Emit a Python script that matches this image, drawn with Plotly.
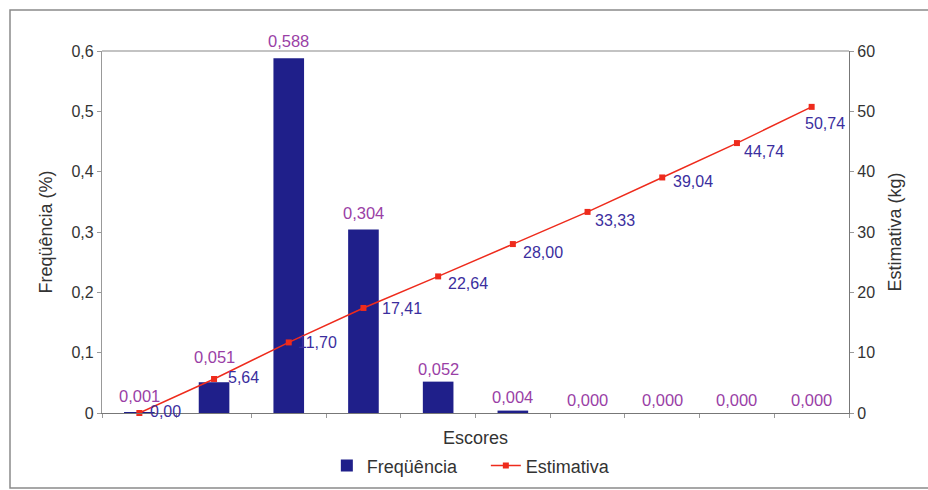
import plotly.graph_objects as go

# Score classes (no tick labels shown on the category axis)
escores = [1, 2, 3, 4, 5, 6, 7, 8, 9, 10]
frequencia = [0.001, 0.051, 0.588, 0.304, 0.052, 0.004, 0.000, 0.000, 0.000, 0.000]
estimativa = [0.00, 5.64, 11.70, 17.41, 22.64, 28.00, 33.33, 39.04, 44.74, 50.74]

freq_ticks = [0, 0.1, 0.2, 0.3, 0.4, 0.5, 0.6]
freq_ticktext = ["0", "0,1", "0,2", "0,3", "0,4", "0,5", "0,6"]
est_ticks = [0, 10, 20, 30, 40, 50, 60]

# Label placement offsets in pixels (styling only)
bar_label_dy = [16, 25, 17, 17, 13, 14, 13, 13, 13, 13]
line_label_dx = [9, 12, 7, 17, 8, 8, 5, 9, 5, -9]
line_label_dy = [2, 1, 0, -1, -7, -8, -9, -4, -8, -17]


def br(v, nd):
    return f"{v:.{nd}f}".replace(".", ",")


FONT = "Liberation Sans, Arial, sans-serif"
BAR_COLOR = "#1f1f8a"
LINE_COLOR = "#ee2b1c"
BAR_LABEL = "#9a3fa6"
LINE_LABEL = "#3b2e9e"

fig = go.Figure()

fig.add_trace(go.Bar(
    x=escores, y=frequencia, name="Freqüência",
    marker=dict(color=BAR_COLOR, line=dict(width=0)),
    width=0.41,
    yaxis="y",
))

fig.add_trace(go.Scatter(
    x=escores, y=estimativa, name="Estimativa",
    mode="lines+markers",
    line=dict(color=LINE_COLOR, width=1.5),
    marker=dict(color=LINE_COLOR, symbol="square", size=6),
    cliponaxis=False,
    yaxis="y2",
))

annotations = []
for xi, fv, dy in zip(escores, frequencia, bar_label_dy):
    annotations.append(dict(
        x=xi, y=fv, xref="x", yref="y", text=br(fv, 3), showarrow=False,
        xanchor="center", yanchor="middle", yshift=dy,
        font=dict(color=BAR_LABEL, size=16.5, family=FONT),
    ))
for xi, ev, dx, dy in zip(escores, estimativa, line_label_dx, line_label_dy):
    annotations.append(dict(
        x=xi, y=ev, xref="x", yref="y2", text=br(ev, 2), showarrow=False,
        xanchor="left", yanchor="middle", xshift=dx, yshift=dy,
        font=dict(color=LINE_LABEL, size=16, family=FONT),
    ))

fig.update_layout(
    width=928, height=490,
    margin=dict(l=102, r=79, t=51, b=77, autoexpand=False),
    paper_bgcolor="white", plot_bgcolor="white",
    font=dict(family=FONT, size=16, color="#333333"),
    separators=",.",
    bargap=0.59,
    showlegend=True,
    legend=dict(orientation="h", x=0.301, xanchor="left", y=-0.095, yanchor="top",
                font=dict(size=18, color="#333333"), itemwidth=30, entrywidth=114,
                bgcolor="rgba(0,0,0,0)", traceorder="normal"),
    annotations=annotations,
    xaxis=dict(
        range=[0.5, 10.5], showticklabels=False,
        ticks="outside", ticklen=4, tickcolor="#999999",
        tickvals=[i + 0.5 for i in range(0, 11)],
        showgrid=False, zeroline=False,
        showline=True, linecolor="#777777", linewidth=1.2,
        title=dict(text="Escores", font=dict(size=18, color="#333333"), standoff=14),
    ),
    yaxis=dict(
        range=[0, 0.6], tickvals=freq_ticks, ticktext=freq_ticktext,
        ticks="outside", ticklen=4, tickcolor="#999999",
        tickfont=dict(size=16),
        showgrid=False, zeroline=False,
        showline=True, linecolor="#999999", linewidth=1.2, mirror=False,
        title=dict(text="Freqüência (%)", font=dict(size=18, color="#333333"), standoff=14),
    ),
    yaxis2=dict(
        range=[0, 60], tickvals=est_ticks, overlaying="y", side="right",
        ticks="outside", ticklen=4, tickcolor="#999999",
        tickfont=dict(size=16),
        showgrid=False, zeroline=False,
        showline=True, linecolor="#777777", linewidth=1.2,
        title=dict(text="Estimativa (kg)", font=dict(size=18, color="#333333"), standoff=14),
    ),
    shapes=[
        # top edge of the plot area
        dict(type="line", xref="paper", yref="paper", x0=0, x1=1, y0=1, y1=1,
             line=dict(color="#888888", width=1.2)),
        # outer frame of the chart
        dict(type="rect", xref="paper", yref="paper",
             x0=(10 - 102) / 747, x1=(935 - 102) / 747,
             y0=(413 - 488) / 362, y1=(413 - 10) / 362,
             line=dict(color="#8a8a8a", width=1.5)),
    ],
)

fig.write_html("out.html")
